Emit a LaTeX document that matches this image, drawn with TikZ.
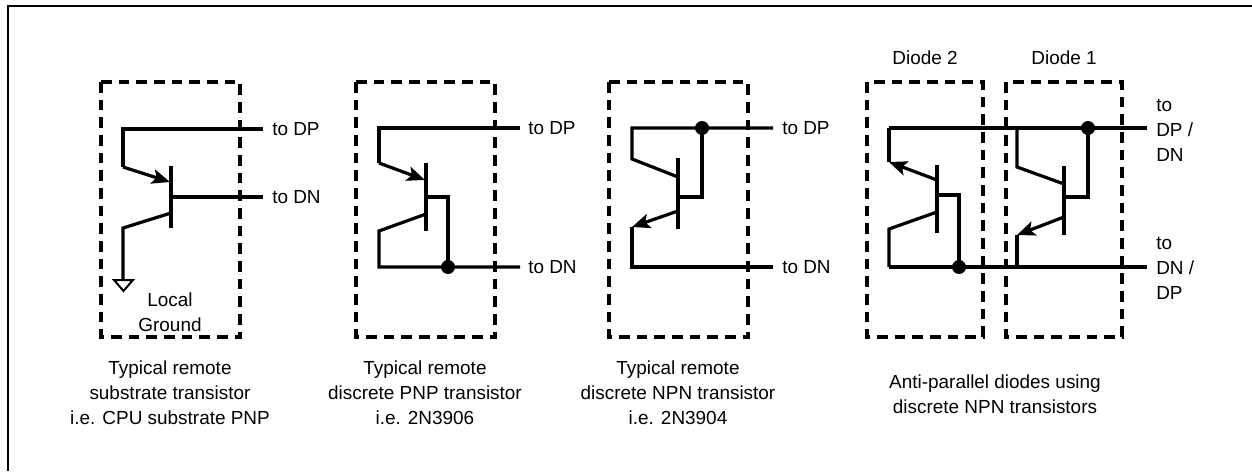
\documentclass[tikz,border=0pt]{standalone}
\usepackage{fontspec}
\setmainfont{Liberation Sans}
\usetikzlibrary{arrows.meta}
\begin{document}
\begin{tikzpicture}[x=0.75pt,y=-0.75pt,
  wire/.style={line width=2.4pt},
  dbox/.style={line width=2.4pt, dash pattern=on 8pt off 5.25pt},
  frame/.style={line width=1.6pt},
  lbl/.style={font=\fontsize{14.2}{18.75}\selectfont, inner sep=0pt, align=center},
  lblw/.style={font=\fontsize{14.2}{18.75}\selectfont, inner sep=0pt, anchor=west, align=left},
  jdot/.style={circle, fill=black, inner sep=0pt, minimum size=10.5pt},
  arr/.style={-{Stealth[length=13.5pt,width=11pt,inset=3pt]}},
  gnd/.style={line width=1.5pt, fill=white, line join=miter}]
\useasboundingbox (0,0) rectangle (1252,471);
% outer frame
\coordinate (fbl) at (8,471); \coordinate (ftl) at (8,6); \coordinate (ftr) at (1252,6);
\draw[frame] (fbl) -- (ftl) -- (ftr);

% ---------------- Box 1: substrate PNP
\coordinate (b1a) at (101,82); \coordinate (b1b) at (240,337);
\draw[dbox] (b1a) rectangle (b1b);
\coordinate (t1top) at (123,129); \coordinate (t1ec) at (123,167); \coordinate (t1eb) at (170,182);
\coordinate (t1bar1) at (171,166); \coordinate (t1bar2) at (171,228);
\coordinate (t1base) at (171,197); \coordinate (t1dn) at (263,197); \coordinate (t1dp) at (263,129);
\coordinate (t1cb) at (171,213); \coordinate (t1cc) at (123,228); \coordinate (t1gnd) at (123,280);
\draw[wire] (t1dp) -- (t1top) -- (t1ec);
\draw[wire,arr] (t1ec) -- (t1eb);
\draw[wire] (t1bar1) -- (t1bar2);
\draw[wire] (t1base) -- (t1dn);
\draw[wire] (t1cb) -- (t1cc) -- (t1gnd);
\coordinate (g1) at (114,280); \coordinate (g2) at (133,280); \coordinate (g3) at (123.5,291);
\draw[gnd] (g1) -- (g2) -- (g3) -- cycle;
\node[lblw] (l1dp) at (272,129) {to DP};
\node[lblw] (l1dn) at (272,197) {to DN};
\node[lbl] (l1gnd) at (170,312.5) {Local\\Ground};
\node[lbl] (c1) at (170,393) {Typical remote\\substrate transistor\\i.e. CPU substrate PNP};

% ---------------- Box 2: discrete PNP
\coordinate (b2a) at (356,82); \coordinate (b2b) at (495,337);
\draw[dbox] (b2a) rectangle (b2b);
\coordinate (t2top) at (379,128); \coordinate (t2ec) at (379,163); \coordinate (t2eb) at (425,180);
\coordinate (t2bar1) at (426,163); \coordinate (t2bar2) at (426,231);
\coordinate (t2base) at (426,197); \coordinate (t2bk) at (448,197); \coordinate (t2j) at (448,267);
\coordinate (t2cb) at (426,214); \coordinate (t2cc) at (379,231); \coordinate (t2cd) at (379,267);
\coordinate (t2dp) at (520,128); \coordinate (t2dn) at (520,267);
\draw[wire] (t2dp) -- (t2top) -- (t2ec);
\draw[wire,arr] (t2ec) -- (t2eb);
\draw[wire] (t2bar1) -- (t2bar2);
\draw[wire] (t2base) -- (t2bk) -- (t2j);
\draw[wire] (t2cb) -- (t2cc) -- (t2cd) -- (t2dn);
\node[jdot] (d2) at (t2j) {};
\node[lblw] (l2dp) at (528,128) {to DP};
\node[lblw] (l2dn) at (528,267) {to DN};
\node[lbl] (c2) at (425,393) {Typical remote\\discrete PNP transistor\\i.e. 2N3906};

% ---------------- Box 3: discrete NPN
\coordinate (b3a) at (609,82); \coordinate (b3b) at (748,337);
\draw[dbox] (b3a) rectangle (b3b);
\coordinate (t3top) at (632,128); \coordinate (t3cc) at (632,159); \coordinate (t3cb) at (678,177);
\coordinate (t3bar1) at (678,158); \coordinate (t3bar2) at (678,229);
\coordinate (t3base) at (678,197); \coordinate (t3bk) at (702,197); \coordinate (t3j) at (702,128);
\coordinate (t3eb) at (678,211); \coordinate (t3ec) at (632,227); \coordinate (t3ed) at (632,267);
\coordinate (t3dp) at (773,128); \coordinate (t3dn) at (773,267);
\draw[wire] (t3dp) -- (t3top) -- (t3cc) -- (t3cb);
\draw[wire] (t3bar1) -- (t3bar2);
\draw[wire] (t3base) -- (t3bk) -- (t3j);
\draw[wire,arr] (t3eb) -- (t3ec);
\draw[wire] (t3ec) -- (t3ed) -- (t3dn);
\node[jdot] (d3) at (t3j) {};
\node[lblw] (l3dp) at (782,128) {to DP};
\node[lblw] (l3dn) at (782,267) {to DN};
\node[lbl] (c3) at (678,393) {Typical remote\\discrete NPN transistor\\i.e. 2N3904};

% ---------------- Boxes 4 and 5: anti-parallel diodes
\coordinate (b4a) at (867,82); \coordinate (b4b) at (983,337);
\coordinate (b5a) at (1006,82); \coordinate (b5b) at (1122,337);
\draw[dbox] (b4a) rectangle (b4b);
\draw[dbox] (b5a) rectangle (b5b);
\node[lbl] (ld2) at (925,58) {Diode 2};
\node[lbl] (ld1) at (1064,58) {Diode 1};
\coordinate (w1a) at (889,128); \coordinate (w1b) at (1147,128);
\coordinate (w2a) at (889,267); \coordinate (w2b) at (1147,267);
\draw[wire] (w1a) -- (w1b);
\draw[wire] (w2a) -- (w2b);
% Diode 2
\coordinate (t4ec) at (889,162); \coordinate (t4eb) at (937,180);
\coordinate (t4bar1) at (937,165); \coordinate (t4bar2) at (937,233);
\coordinate (t4base) at (937,195); \coordinate (t4bk) at (959,195); \coordinate (t4j) at (959,267);
\coordinate (t4cb) at (937,212); \coordinate (t4cc) at (889,229);
\draw[wire] (w1a) -- (t4ec);
\draw[wire,arr] (t4eb) -- (t4ec);
\draw[wire] (t4bar1) -- (t4bar2);
\draw[wire] (t4base) -- (t4bk) -- (t4j);
\draw[wire] (t4cb) -- (t4cc) -- (w2a);
\node[jdot] (d4) at (t4j) {};
% Diode 1
\coordinate (t5top) at (1017,128); \coordinate (t5cc) at (1017,167); \coordinate (t5cb) at (1064,184);
\coordinate (t5bar1) at (1064,166); \coordinate (t5bar2) at (1064,235);
\coordinate (t5base) at (1064,197); \coordinate (t5bk) at (1088,197); \coordinate (t5j) at (1088,128);
\coordinate (t5eb) at (1064,217); \coordinate (t5ec) at (1017,235); \coordinate (t5ed) at (1017,267);
\draw[wire] (t5top) -- (t5cc) -- (t5cb);
\draw[wire] (t5bar1) -- (t5bar2);
\draw[wire] (t5base) -- (t5bk) -- (t5j);
\draw[wire,arr] (t5eb) -- (t5ec);
\draw[wire] (t5ec) -- (t5ed);
\node[jdot] (d5) at (t5j) {};
\node[lblw] (l5a) at (1156,130) {to\\DP /\\DN};
\node[lblw] (l5b) at (1156,268) {to\\DN /\\DP};
\node[lbl] (c5) at (995,394.5) {Anti-parallel diodes using\\discrete NPN transistors};
\end{tikzpicture}
\end{document}
